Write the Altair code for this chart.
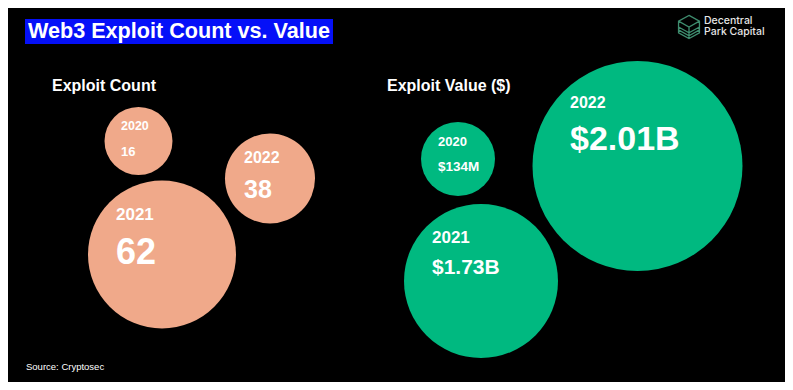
import altair as alt
import pandas as pd

# ---- data ----
years = ["2020", "2021", "2022"]
exploit_counts = [16, 62, 38]
count_labels = ["16", "62", "38"]
exploit_values_usd = [134e6, 1.73e9, 2.01e9]
value_labels = ["$134M", "$1.73B", "$2.01B"]

# ---- layout (page pixel units) ----
count_cx = [138.5, 162, 270]
count_cy = [141, 254.5, 178.5]
count_r = [34, 74, 45]
value_cx = [458, 481, 637.5]
value_cy = [159, 281, 166]
value_r = [37, 77, 105]

count_year_xy = [(121, 126), (116, 215), (244, 158)]
count_year_fs = [12.5, 17, 16]
count_val_xy = [(121, 152), (116, 253), (244, 190)]
count_val_fs = [13, 36, 25]
value_year_xy = [(438, 142), (432, 238), (570, 103)]
value_year_fs = [13, 17, 16]
value_val_xy = [(438, 167), (432, 268), (570, 140)]
value_val_fs = [13.5, 21, 34]

PINK = "#F0A98A"
GREEN = "#00B980"
FONT = "Liberation Sans"

bubbles = pd.DataFrame(
    [
        {"panel": "count", "year": y, "x": cx, "y": cy, "s": (2 * r) ** 2, "v": v}
        for y, cx, cy, r, v in zip(years, count_cx, count_cy, count_r, exploit_counts)
    ]
    + [
        {"panel": "value", "year": y, "x": cx, "y": cy, "s": (2 * r) ** 2, "v": v}
        for y, cx, cy, r, v in zip(years, value_cx, value_cy, value_r, exploit_values_usd)
    ]
)

labels = pd.DataFrame(
    [{"x": p[0], "y": p[1], "t": y, "fs": f} for y, p, f in zip(years, count_year_xy, count_year_fs)]
    + [{"x": p[0], "y": p[1], "t": t, "fs": f} for t, p, f in zip(count_labels, count_val_xy, count_val_fs)]
    + [{"x": p[0], "y": p[1], "t": y, "fs": f} for y, p, f in zip(years, value_year_xy, value_year_fs)]
    + [{"x": p[0], "y": p[1], "t": t, "fs": f} for t, p, f in zip(value_labels, value_val_xy, value_val_fs)]
)

deco = pd.DataFrame(
    [
        {"x": 52, "y": 86, "t": "Exploit Count", "fs": 16, "w": "bold", "f": FONT},
        {"x": 387, "y": 86, "t": "Exploit Value ($)", "fs": 16, "w": "bold", "f": FONT},
        {"x": 28, "y": 31.5, "t": "Web3 Exploit Count vs. Value", "fs": 21.6, "w": "bold", "f": FONT},
        {"x": 26, "y": 367, "t": "Source: Cryptosec", "fs": 9.5, "w": "normal", "f": FONT},
        {"x": 704, "y": 20.5, "t": "Decentral", "fs": 10.5, "w": "normal", "f": "Inter"},
        {"x": 704, "y": 32, "t": "Park Capital", "fs": 10.5, "w": "normal", "f": "Inter"},
    ]
)

xs = alt.Scale(domain=[8, 785])
ys = alt.Scale(domain=[8, 382], reverse=True)


def X():
    return alt.X("x:Q", scale=xs, axis=None)


def Y():
    return alt.Y("y:Q", scale=ys, axis=None)


title_box = (
    alt.Chart(pd.DataFrame({"x": [25], "x2": [333], "y": [19], "y2": [44]}))
    .mark_rect(color="#0510F8")
    .encode(x=X(), x2="x2:Q", y=Y(), y2="y2:Q")
)

circles = (
    alt.Chart(bubbles)
    .mark_circle(opacity=1, strokeWidth=0)
    .encode(
        x=X(),
        y=Y(),
        size=alt.Size("s:Q", scale=None),
        color=alt.Color("panel:N", scale=alt.Scale(domain=["count", "value"], range=[PINK, GREEN]), legend=None),
    )
)

label_text = (
    alt.Chart(labels)
    .mark_text(align="left", baseline="middle", font=FONT, fontWeight="bold", color="#FFFFFF")
    .encode(x=X(), y=Y(), text="t:N", size=alt.Size("fs:Q", scale=None))
)

deco_bold = (
    alt.Chart(deco[deco.w == "bold"])
    .mark_text(align="left", baseline="middle", font=FONT, fontWeight="bold", color="#FFFFFF")
    .encode(x=X(), y=Y(), text="t:N", size=alt.Size("fs:Q", scale=None))
)
deco_normal = (
    alt.Chart(deco[(deco.w == "normal") & (deco.f == FONT)])
    .mark_text(align="left", baseline="middle", font=FONT, color="#FFFFFF")
    .encode(x=X(), y=Y(), text="t:N", size=alt.Size("fs:Q", scale=None))
)
deco_logo = (
    alt.Chart(deco[deco.f == "Inter"])
    .mark_text(align="left", baseline="middle", font="Inter", fontWeight=500, color="#E6E6E6")
    .encode(x=X(), y=Y(), text="t:N", size=alt.Size("fs:Q", scale=None))
)

cube_path = (
    "M0,-1 L0.9,-0.5 L0.9,0.5 L0,1 L-0.9,0.5 L-0.9,-0.5 Z "
    "M-0.9,-0.5 L0,0 L0.9,-0.5 M0,0 L0,1 "
    "M-0.9,0 L0,0.5 L0.9,0 M-0.9,0.25 L0,0.75 L0.9,0.25"
)
logo_icon = (
    alt.Chart(pd.DataFrame({"x": [689], "y": [27]}))
    .mark_point(shape=cube_path, filled=False, stroke="#3E8C6E", strokeWidth=1.3, size=540, opacity=1)
    .encode(x=X(), y=Y())
)

chart = (
    alt.layer(title_box, circles, label_text, deco_bold, deco_normal, deco_logo, logo_icon)
    .properties(
        width=777,
        height=374,
        background="#000000",
        padding=0,
        autosize=alt.AutoSizeParams(type="fit", contains="padding"),
    )
    .configure_view(stroke=None)
)

chart.save("out.html", embed_options={"renderer": "svg", "actions": False})
